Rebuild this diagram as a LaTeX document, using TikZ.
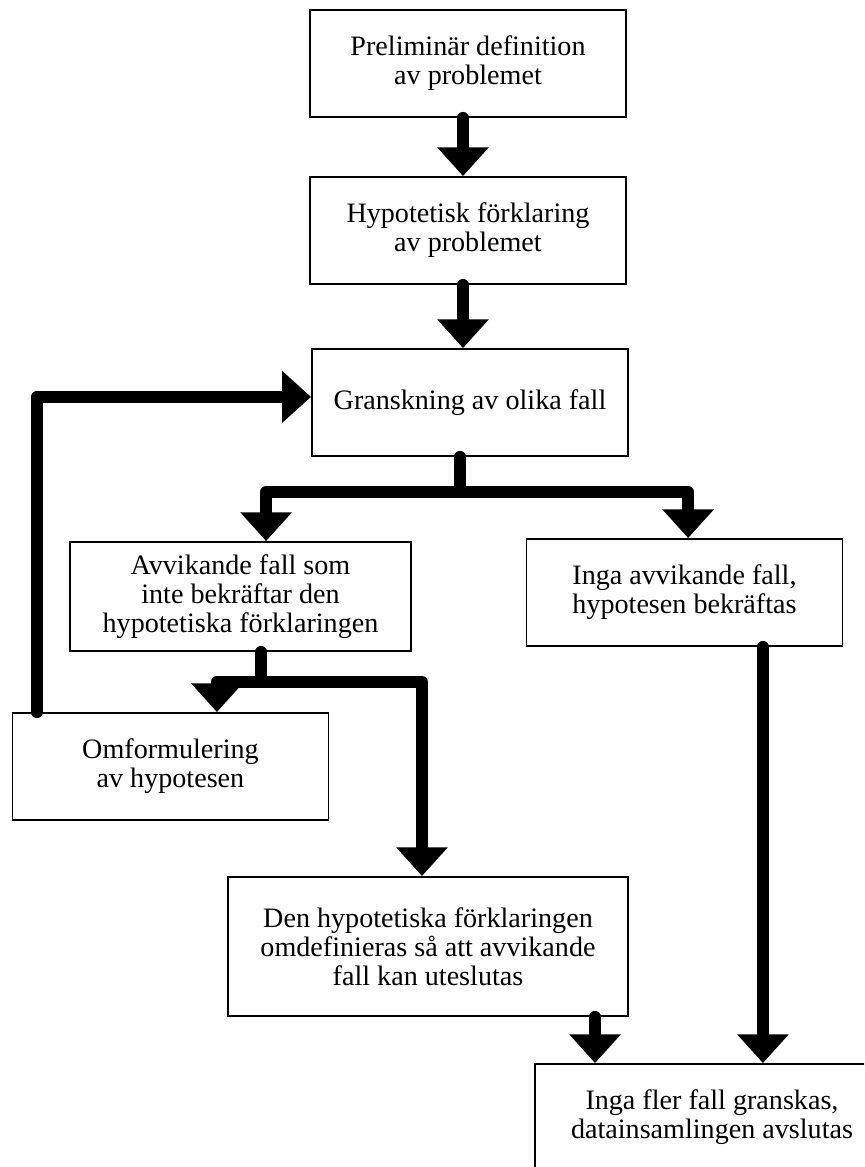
\documentclass[tikz,border=0pt]{standalone}
\usepackage{fontspec}
\setmainfont{Liberation Serif}
\usetikzlibrary{arrows.meta}

\begin{document}
\begin{tikzpicture}[x=0.025cm, y=-0.025cm,
  every node/.style={draw, line width=1.3pt, align=center, inner sep=2pt, minimum width=7.9cm, minimum height=2.675cm, font=\fontsize{20pt}{20.6pt}\selectfont},
  link/.style={line width=0.3cm, line cap=round, line join=round},
  flow/.style={link, -{Triangle[width=1.25cm, length=0.72cm]}}]
\clip (0,0) rectangle (864,1167);
\node (F1N1) at (468,63.5) {Preliminär definition\\av problemet};
\node (F1N2) at (468,230.5) {Hypotetisk förklaring\\av problemet};
\node (F1N3) at (470,402.5) {Granskning av olika fall};
\node[minimum width=8.525cm, minimum height=2.725cm] (F1N4) at (240.5,596.5) {Avvikande fall som\\inte bekräftar den\\hypotetiska förklaringen};
\node (F1N5) at (684.5,592.5) {Inga avvikande fall,\\hypotesen bekräftas};
\node (F1N6) at (170.5,766.5) {Omformulering\\av hypotesen};
\node[minimum width=10cm, minimum height=3.475cm] (F1N7) at (428,946.5) {Den hypotetiska förklaringen\\omdefinieras så att avvikande\\fall kan uteslutas};
\node[minimum width=8.85cm] (F1N8) at (712,1117.5) {Inga fler fall granskas,\\datainsamlingen avslutas};

\coordinate (F1J1) at (460,492);
\coordinate (F1J2) at (261,682);

\draw[flow] ([xshift=-0.125cm]F1N1.south) -- ([xshift=-0.125cm]F1N2.north);
\draw[flow] ([xshift=-0.125cm]F1N2.south) -- ([xshift=-0.125cm]F1N2.south |- F1N3.north);
\draw[link] (F1N3.south -| F1J1) -- (F1J1);
\draw[flow] (F1J1) -| ([xshift=0.64cm]F1N4.north);
\draw[flow] (F1J1) -| ([xshift=0.09cm]F1N5.north);
\draw[link] (F1N4.south -| F1J2) -- (F1J2);
\draw[flow] (F1J2) -| ([xshift=1.16cm]F1N6.north);
\draw[flow] (F1J2) -| ([xshift=-0.15cm]F1N7.north);
\draw[flow] ([xshift=-3.34cm]F1N6.north) |- ([yshift=0.14cm]F1N3.west);
\draw[flow] ([xshift=1.96cm]F1N5.south) -- ([xshift=1.96cm]F1N5.south |- F1N8.north);
\draw[flow] ([xshift=4.175cm]F1N7.south) -- ([xshift=4.175cm]F1N7.south |- F1N8.north);
\end{tikzpicture}
\end{document}
